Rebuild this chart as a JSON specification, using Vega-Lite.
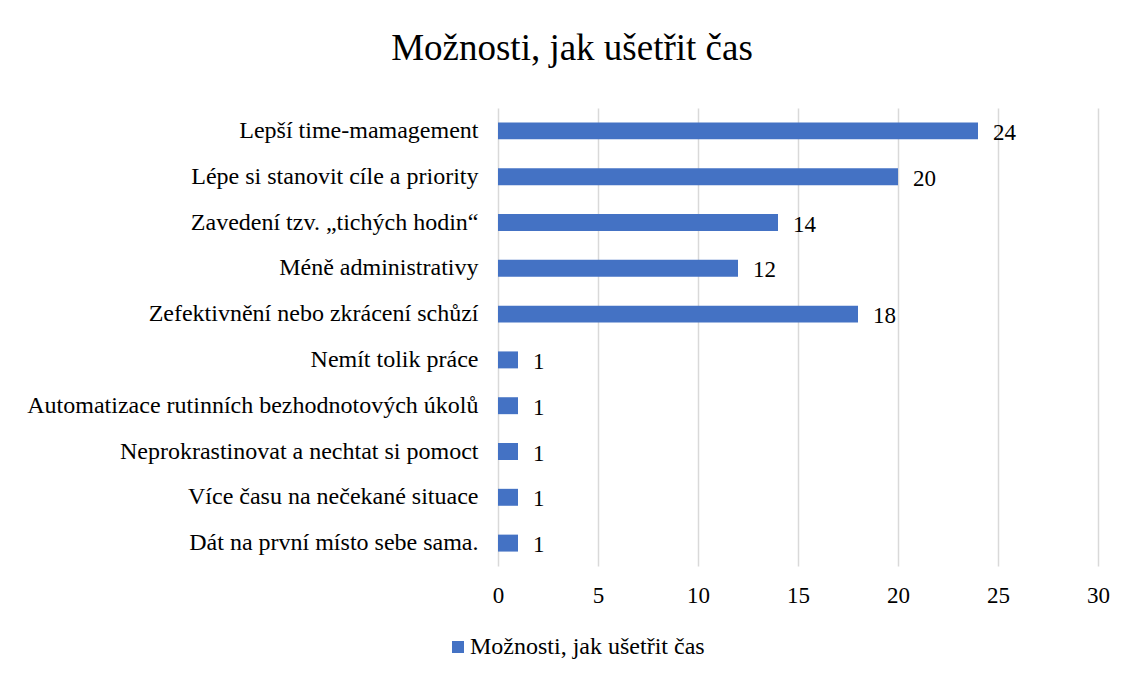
{
  "$schema": "https://vega.github.io/schema/vega-lite/v6.json",
  "width": 600,
  "height": 458,
  "autosize": "none",
  "padding": {"left": 498, "top": 108, "right": 28, "bottom": 109},
  "background": "white",
  "config": {
    "font": "Liberation Serif",
    "view": {"stroke": null}
  },
  "title": {
    "text": "Možnosti, jak ušetřit čas",
    "font": "Liberation Serif",
    "fontSize": 37,
    "fontWeight": "normal",
    "color": "#000000",
    "anchor": "middle",
    "dx": -226,
    "offset": 40
  },
  "data": {
    "values": [
      {"moznost": "Lepší time-mamagement", "pocet": 24, "serie": "Možnosti, jak ušetřit čas"},
      {"moznost": "Lépe si stanovit cíle a priority", "pocet": 20, "serie": "Možnosti, jak ušetřit čas"},
      {"moznost": "Zavedení tzv. „tichých hodin“", "pocet": 14, "serie": "Možnosti, jak ušetřit čas"},
      {"moznost": "Méně administrativy", "pocet": 12, "serie": "Možnosti, jak ušetřit čas"},
      {"moznost": "Zefektivnění nebo zkrácení schůzí", "pocet": 18, "serie": "Možnosti, jak ušetřit čas"},
      {"moznost": "Nemít tolik práce", "pocet": 1, "serie": "Možnosti, jak ušetřit čas"},
      {"moznost": "Automatizace rutinních bezhodnotových úkolů", "pocet": 1, "serie": "Možnosti, jak ušetřit čas"},
      {"moznost": "Neprokrastinovat a nechtat si pomoct", "pocet": 1, "serie": "Možnosti, jak ušetřit čas"},
      {"moznost": "Více času na nečekané situace", "pocet": 1, "serie": "Možnosti, jak ušetřit čas"},
      {"moznost": "Dát na první místo sebe sama.", "pocet": 1, "serie": "Možnosti, jak ušetřit čas"}
    ]
  },
  "encoding": {
    "y": {
      "field": "moznost",
      "type": "nominal",
      "sort": null,
      "scale": {"paddingInner": 0.63, "paddingOuter": 0.315},
      "axis": {
        "title": null,
        "domain": false,
        "ticks": false,
        "grid": false,
        "labelFont": "Liberation Serif",
        "labelFontSize": 24,
        "labelColor": "#000000",
        "labelPadding": 20,
        "labelLimit": 600
      }
    },
    "x": {
      "field": "pocet",
      "type": "quantitative",
      "scale": {"domain": [0, 30]},
      "axis": {
        "title": null,
        "values": [0, 5, 10, 15, 20, 25, 30],
        "domain": false,
        "ticks": false,
        "grid": true,
        "gridColor": "#D9D9D9",
        "gridWidth": 1.5,
        "labelFlush": false,
        "labelFont": "Liberation Serif",
        "labelFontSize": 23,
        "labelColor": "#000000",
        "labelPadding": 18
      }
    }
  },
  "layer": [
    {
      "mark": {"type": "bar", "color": "#4472C4"},
      "encoding": {
        "color": {
          "field": "serie",
          "type": "nominal",
          "scale": {"range": ["#4472C4"]},
          "legend": {
            "title": null,
            "orient": "none",
            "legendX": -52,
            "legendY": 527,
            "direction": "horizontal",
            "symbolType": "square",
            "symbolSize": 144,
            "symbolStrokeWidth": 0,
            "labelFont": "Liberation Serif",
            "labelFontSize": 24,
            "labelColor": "#000000",
            "labelOffset": 0,
            "labelLimit": 400
          }
        }
      }
    },
    {
      "mark": {
        "type": "text",
        "align": "left",
        "baseline": "middle",
        "dx": 15,
        "dy": 2,
        "font": "Liberation Serif",
        "fontSize": 23,
        "color": "#000000"
      },
      "encoding": {
        "text": {"field": "pocet", "type": "quantitative"}
      }
    }
  ]
}
